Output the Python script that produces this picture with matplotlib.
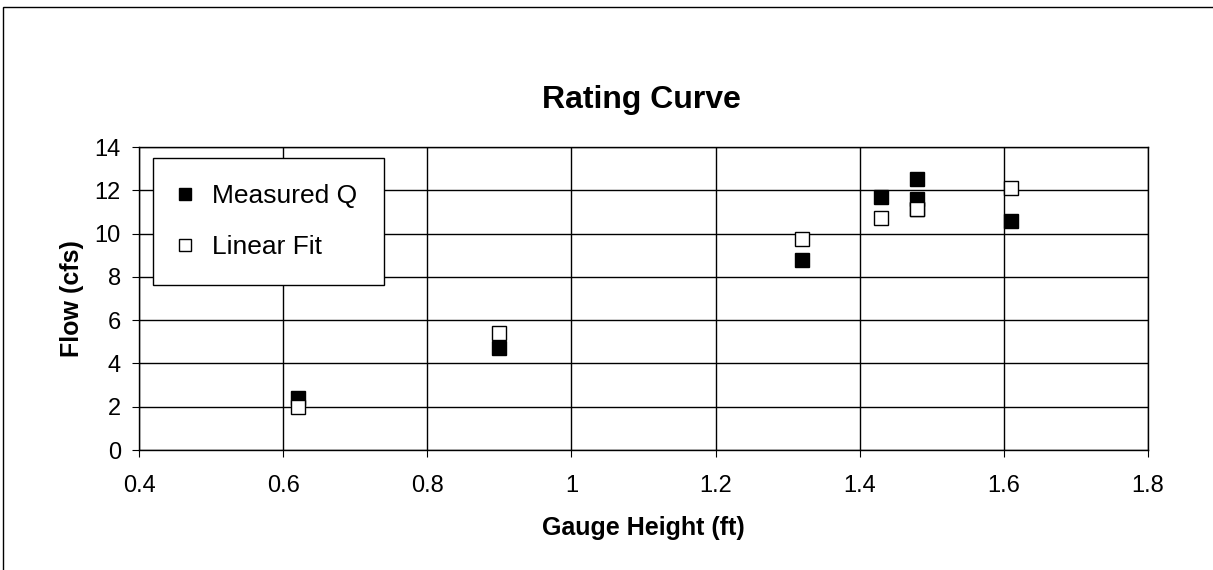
import numpy as np
from matplotlib import pyplot as plt
import matplotlib.patches as patches

plt.rcParams['font.family'] = ['Liberation Sans', 'DejaVu Sans']

# gauge height (ft) and flows (cfs)
gauge_height = [0.62, 0.90, 1.32, 1.43, 1.48, 1.48, 1.61]
measured_q = [2.4, 4.7, 8.8, 11.7, 12.5, 11.6, 10.6]
linear_fit = [2.0, 5.4, 9.75, 10.7, 11.15, 11.15, 12.1]

x_ticks = [0.4, 0.6, 0.8, 1.0, 1.2, 1.4, 1.6, 1.8]
x_labels = ['0.4', '0.6', '0.8', '1', '1.2', '1.4', '1.6', '1.8']
y_ticks = [0, 2, 4, 6, 8, 10, 12, 14]

fig = plt.figure(figsize=(12.13, 5.70), dpi=100)
ax = fig.add_axes([0.1146, 0.2105, 0.8318, 0.5316])

# outer chart frame (cut off at right and bottom like the scan)
frame = patches.Rectangle((3 / 1213, -0.05), 1.2, 1 - 7 / 570 + 0.05,
                          transform=fig.transFigure, fill=False,
                          edgecolor='black', linewidth=1.0, clip_on=False)
fig.add_artist(frame)

ax.plot(gauge_height, measured_q, linestyle='none', marker='s', markersize=10,
        markerfacecolor='black', markeredgecolor='black', label='Measured Q', zorder=3)
ax.plot(gauge_height, linear_fit, linestyle='none', marker='s', markersize=10,
        markerfacecolor='white', markeredgecolor='black', markeredgewidth=1.0,
        label='Linear Fit', zorder=4)

ax.set_xlim(0.4, 1.8)
ax.set_ylim(0, 14)
ax.set_xticks(x_ticks)
ax.set_xticklabels(x_labels)
ax.set_yticks(y_ticks)
ax.grid(True, color='black', linewidth=1.0)
ax.set_axisbelow(True)
ax.tick_params(labelsize=17, direction='out', length=5, color='black')
ax.tick_params(axis='x', pad=13)
ax.tick_params(axis='y', pad=8)
for s in ax.spines.values():
    s.set_color('black')
    s.set_linewidth(1.0)

ax.set_xlabel('Gauge Height (ft)', fontsize=18, fontweight='bold', labelpad=14)
ax.set_ylabel('Flow (cfs)', fontsize=18, fontweight='bold', labelpad=8)
fig.text(0.529, 0.825, 'Rating Curve', fontsize=23, fontweight='bold',
         ha='center', va='center')

leg = ax.legend(loc='upper left', bbox_to_anchor=(0.0139, 0.9637), fontsize=19,
                frameon=True, fancybox=False, edgecolor='black', framealpha=1,
                borderaxespad=0, handletextpad=0.8, labelspacing=1.0,
                borderpad=1.0, handlelength=0.45, markerscale=0.9)
leg.get_frame().set_linewidth(1.0)

fig.savefig('out.png', dpi=100, facecolor='white')
